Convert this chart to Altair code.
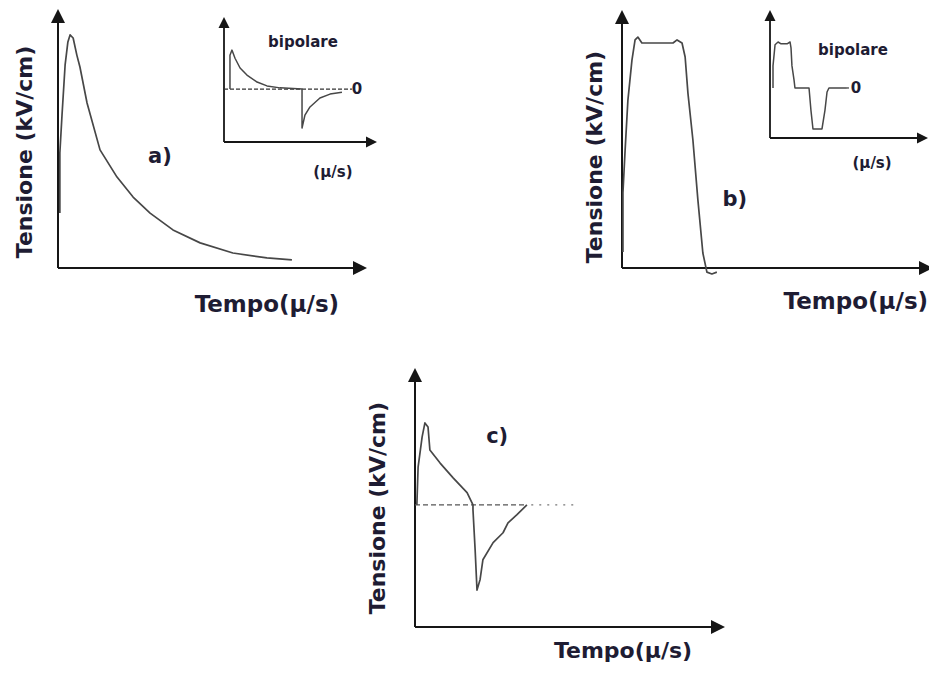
import altair as alt
import pandas as pd

# ---------------- data ----------------
# a) main pulse: time (0-100 of axis), voltage (0-100 of axis)
A_T = [0.6, 0.6, 1.3, 2.3, 3.2, 3.9, 4.9, 6.1, 7.1, 9.4, 13.6, 19.1, 24.3, 29.8, 37.2, 46.0, 56.6, 67.6, 75.7]
A_V = [21.2, 44.4, 59.1, 78.4, 87.3, 90.0, 88.8, 82.2, 77.6, 63.7, 45.6, 35.1, 27.4, 21.2, 14.7, 9.7, 5.8, 3.9, 3.1]
# a) inset "bipolare": zero line at 0, peak = 1
AI_T = [3.9, 3.9, 5.2, 7.2, 10.5, 15.0, 21.6, 28.1, 36.6, 51.0, 51.0, 52.9, 56.2, 62.7, 69.3, 77.1]
AI_V = [0, 0.87, 1.0, 0.79, 0.54, 0.36, 0.18, 0.08, 0.03, 0, -1.0, -0.67, -0.46, -0.23, -0.13, -0.08]
# b) main square pulse
B_T = [0.3, 0.3, 1.0, 1.9, 3.2, 4.2, 5.1, 6.4, 16.4, 17.7, 19.3, 20.3, 21.2, 22.8, 24.4, 26.0, 27.3, 28.9, 30.5]
B_V = [6.2, 29.1, 45.7, 65.1, 80.6, 88.4, 89.5, 87.2, 87.2, 88.4, 87.2, 81.8, 67.8, 49.6, 26.4, 5.8, -1.6, -2.3, -1.6]
# b) inset "bipolare"
BI_T = [1.9, 1.9, 3.2, 5.1, 7.0, 10.8, 12.7, 13.3, 13.9, 15.2, 15.8, 24.7, 25.9, 27.2, 32.9, 34.8, 36.1, 37.3, 48.7]
BI_V = [0, 0.49, 0.96, 1.02, 0.98, 0.98, 1.02, 0.89, 0.49, 0.18, 0, 0, -0.49, -0.91, -0.91, -0.49, -0.09, 0, 0]
# c) bipolar pulse
C_T = [0.6, 1.0, 2.3, 3.2, 4.2, 4.8, 8.1, 12.3, 16.8, 18.7, 18.7, 19.4, 20.0, 21.0, 21.9, 25.2, 28.4, 30.0, 32.9, 36.1]
C_V = [0, 0.46, 0.83, 1.0, 0.95, 0.67, 0.51, 0.33, 0.15, 0, -0.06, -0.55, -1.04, -0.91, -0.67, -0.46, -0.34, -0.22, -0.12, 0]

Y_TITLE = "Tensione (kV/cm)"
X_TITLE = "Tempo(µ/s)"
INSET_TITLE = "bipolare"
INSET_X = "(µ/s)"
ZERO = "0"
TAGS = ["a)", "b)", "c)"]

# ---------------- layout: each panel gets its own scales ----------------
PANELS = {
    "A":  dict(xd=[0, 100], xr=[50, 359], yd=[0, 100], yr=[260, 1]),
    "AI": dict(xd=[0, 100], xr=[216, 369], yd=[-1.36, 1.85], yr=[134, 9]),
    "B":  dict(xd=[0, 100], xr=[614, 925], yd=[0, 100], yr=[260, 2]),
    "BI": dict(xd=[0, 100], xr=[762, 920], yd=[-1.11, 1.73], yr=[130, 2]),
    "C":  dict(xd=[0, 100], xr=[407, 717], yd=[-1.49, 1.67], yr=[619, 360]),
}

TXT = "#1e1c33"
AXC = "#161616"
CURVE = "#474747"
FONT = "DejaVu Sans"
UP = "M0,0L-0.5,1L0.5,1Z"
RIGHT = "M0,0L-1,-0.5L-1,0.5Z"


def sc(dom, rng):
    return alt.Scale(domain=dom, range=rng, nice=False, zero=False)


def enc(p):
    P = PANELS[p]
    return dict(x=alt.X("u:Q", scale=sc(P["xd"], P["xr"]), axis=None),
                y=alt.Y("v:Q", scale=sc(P["yd"], P["yr"]), axis=None))


def curve(p, ts, vs, color=CURVE, width=1.6, dash=None):
    df = pd.DataFrame({"u": ts, "v": vs, "i": list(range(len(ts)))})
    kw = dict(color=color, strokeWidth=width, strokeJoin="round")
    if dash:
        kw["strokeDash"] = dash
    return alt.Chart(df).mark_line(**kw).encode(order="i:Q", **enc(p))


def axes(p, arrow, width):
    P = PANELS[p]
    x0, x1 = P["xd"]
    y0, y1 = P["yd"]
    fx = (x1 - x0) * arrow * 0.6 / abs(P["xr"][1] - P["xr"][0])
    fy = (y1 - y0) * arrow * 0.6 / abs(P["yr"][1] - P["yr"][0])
    out = [curve(p, [x0, x1 - fx], [y0, y0], AXC, width),
           curve(p, [x0, x0], [y0, y1 - fy], AXC, width)]
    for shape, u, v in [(UP, x0, y1), (RIGHT, x1, y0)]:
        out.append(alt.Chart(pd.DataFrame({"u": [u], "v": [v]})).mark_point(
            shape=shape, size=(2 * arrow) ** 2, filled=True, color=AXC,
            opacity=1, strokeWidth=0).encode(**enc(p)))
    return out


def label(p, u, v, text, size, angle=0):
    df = pd.DataFrame({"u": [u], "v": [v], "t": [text]})
    return alt.Chart(df).mark_text(
        font=FONT, fontWeight="bold", fontSize=size, angle=angle,
        align="center", baseline="middle", color=TXT).encode(text="t:N", **enc(p))


layers = []
# ---- panel a
layers += axes("A", 14, 2)
layers.append(curve("A", A_T, A_V, width=1.7))
layers += [label("A", -10.7, 44.8, Y_TITLE, 22, 270),
           label("A", 67.6, -14.3, X_TITLE, 23),
           label("A", 33.0, 42.9, TAGS[0], 21)]
# inset a
layers += axes("AI", 11, 1.8)
layers.append(curve("AI", [0, 83.7], [0, 0], "#333333", 1.2, [4, 2]))
layers.append(curve("AI", AI_T, AI_V, width=1.5))
layers += [label("AI", 51.6, 1.2, INSET_TITLE, 15),
           label("AI", 71.2, -2.13, INSET_X, 15),
           label("AI", 86.9, 0, ZERO, 15)]
# ---- panel b
layers += axes("B", 14, 2)
layers.append(curve("B", B_T, B_V, width=1.7))
layers += [label("B", -8.7, 43.0, Y_TITLE, 22, 270),
           label("B", 75.2, -13.2, X_TITLE, 23),
           label("B", 36.3, 26.4, TAGS[1], 21)]
# inset b
layers += axes("BI", 11, 1.8)
layers.append(curve("BI", [48.7, 51.0], [0, 0], "#333333", 1.2, [2, 2]))
layers.append(curve("BI", BI_T, BI_V, width=1.5))
layers += [label("BI", 52.5, 0.84, INSET_TITLE, 15),
           label("BI", 64.6, -1.67, INSET_X, 15),
           label("BI", 54.4, 0, ZERO, 15)]
# ---- panel c
layers += axes("C", 14, 2)
layers.append(curve("C", [0, 36.1], [0, 0], "#555555", 1.3, [5, 3]))
layers.append(curve("C", [37.5, 52.0], [0, 0], "#777777", 1.3, [2, 6]))
layers.append(curve("C", C_T, C_V, width=1.7))
layers += [label("C", -11.9, -0.04, Y_TITLE, 22, 270),
           label("C", 67.1, -1.78, X_TITLE, 22),
           label("C", 26.5, 0.83, TAGS[2], 21)]

chart = alt.layer(*layers).resolve_scale(
    x="independent", y="independent"
).properties(
    width=921, height=659, padding=0, autosize="none", background="white"
).configure_view(stroke=None)

chart.save("out.html", embed_options={"renderer": "svg", "actions": False})
